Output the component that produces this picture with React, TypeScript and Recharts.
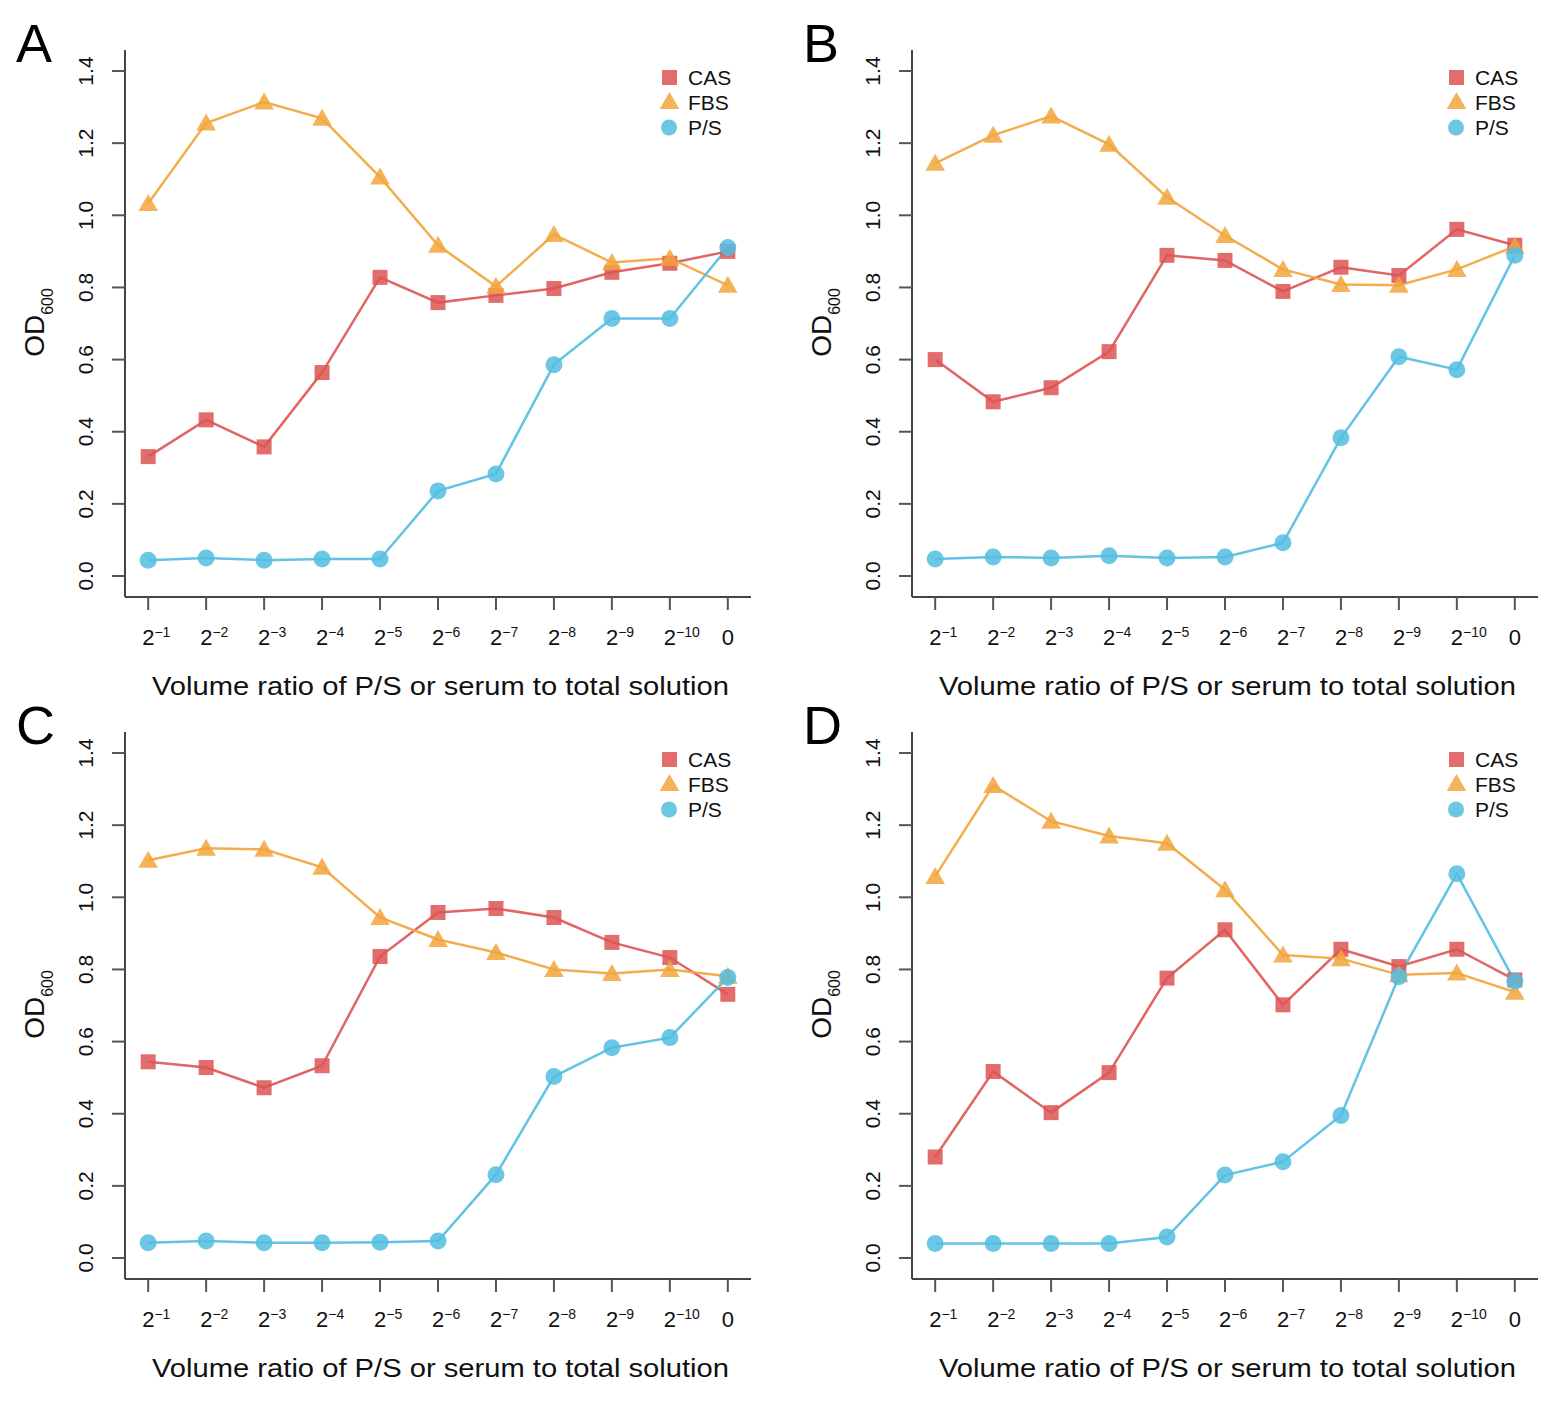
import React from "react";
import { LineChart, Line, XAxis, YAxis, Legend } from "recharts";

const FONT = "'Liberation Sans', Arial, Helvetica, sans-serif";

// categories: volume ratio 2^-1 ... 2^-10, 0
const xIndex = [1, 2, 3, 4, 5, 6, 7, 8, 9, 10, 11];
const exponents = ["−1", "−2", "−3", "−4", "−5", "−6", "−7", "−8", "−9", "−10", ""];
const yTicks = [0, 0.2, 0.4, 0.6, 0.8, 1.0, 1.2, 1.4];
const yTickLabels = ["0.0", "0.2", "0.4", "0.6", "0.8", "1.0", "1.2", "1.4"];

// Panel A
const casA = [0.331, 0.433, 0.358, 0.564, 0.828, 0.758, 0.778, 0.797, 0.842, 0.867, 0.9];
const fbsA = [1.033, 1.256, 1.314, 1.269, 1.106, 0.917, 0.803, 0.947, 0.869, 0.881, 0.806];
const psA = [0.044, 0.05, 0.044, 0.047, 0.047, 0.236, 0.283, 0.586, 0.714, 0.714, 0.911];
// Panel B
const casB = [0.6, 0.483, 0.522, 0.622, 0.889, 0.875, 0.789, 0.856, 0.833, 0.961, 0.917];
const fbsB = [1.144, 1.222, 1.275, 1.197, 1.05, 0.944, 0.85, 0.808, 0.806, 0.85, 0.914];
const psB = [0.047, 0.053, 0.05, 0.056, 0.05, 0.053, 0.092, 0.383, 0.608, 0.572, 0.889];
// Panel C
const casC = [0.544, 0.528, 0.472, 0.533, 0.836, 0.958, 0.969, 0.944, 0.875, 0.833, 0.731];
const fbsC = [1.103, 1.136, 1.133, 1.083, 0.944, 0.883, 0.847, 0.8, 0.789, 0.8, 0.781];
const psC = [0.042, 0.047, 0.042, 0.042, 0.044, 0.047, 0.231, 0.503, 0.583, 0.611, 0.778];
// Panel D
const casD = [0.28, 0.517, 0.403, 0.514, 0.776, 0.91, 0.702, 0.856, 0.808, 0.856, 0.771];
const fbsD = [1.058, 1.31, 1.211, 1.17, 1.15, 1.021, 0.84, 0.83, 0.785, 0.79, 0.737];
const psD = [0.04, 0.04, 0.04, 0.04, 0.058, 0.23, 0.267, 0.395, 0.78, 1.065, 0.767];

const seriesNames = ["CAS", "FBS", "P/S"];
const colors = { CAS: "#DD5454", FBS: "#F2A43C", PS: "#52BDE1" };

const W = 767;
const H = 720;

function buildRows(cas: number[], fbs: number[], ps: number[]) {
  return xIndex.map((x, i) => ({ x, CAS: cas[i], FBS: fbs[i], PS: ps[i] }));
}

const SquareDot = (props: any) => {
  const { cx, cy, index } = props;
  if (cx == null || cy == null) return null;
  return (
    <rect key={"s" + index} x={cx - 7.5} y={cy - 7.5} width={15} height={15} fill={colors.CAS} fillOpacity={0.85} />
  );
};
const TriangleDot = (props: any) => {
  const { cx, cy, index } = props;
  if (cx == null || cy == null) return null;
  return (
    <polygon
      key={"t" + index}
      points={`${cx},${cy - 9.5} ${cx - 9.8},${cy + 7.5} ${cx + 9.8},${cy + 7.5}`}
      fill={colors.FBS}
      fillOpacity={0.85}
    />
  );
};
const CircleDot = (props: any) => {
  const { cx, cy, index } = props;
  if (cx == null || cy == null) return null;
  return <circle key={"c" + index} cx={cx} cy={cy} r={8.5} fill={colors.PS} fillOpacity={0.85} />;
};

const XTick = (props: any) => {
  const { x, payload } = props;
  const i = xIndex.indexOf(payload.value);
  const exp = exponents[i];
  if (!exp) {
    return (
      <text x={x} y={645} textAnchor="middle" fontFamily={FONT} fontSize={22} fill="#111">
        0
      </text>
    );
  }
  return (
    <text x={x - 6} y={645} textAnchor="start" fontFamily={FONT} fontSize={22} fill="#111">
      2
      <tspan fontSize={14} dy={-8}>
        {exp}
      </tspan>
    </text>
  );
};

const YTick = (props: any) => {
  const { y, payload } = props;
  const i = yTicks.indexOf(payload.value);
  const bx = 93;
  return (
    <text
      x={bx}
      y={y}
      transform={`rotate(-90, ${bx}, ${y})`}
      textAnchor="middle"
      fontFamily={FONT}
      fontSize={21}
      fill="#111"
    >
      {yTickLabels[i]}
    </text>
  );
};

const YLabel = (props: any) => {
  const vb = props.viewBox || { x: 0, y: 50, width: 125, height: 547 };
  const cy = vb.y + vb.height / 2 - 1;
  const bx = 44;
  return (
    <text
      x={bx}
      y={cy}
      transform={`rotate(-90, ${bx}, ${cy})`}
      textAnchor="middle"
      fontFamily={FONT}
      fontSize={28}
      fill="#111"
    >
      OD
      <tspan fontSize={16} dy={9}>
        600
      </tspan>
    </text>
  );
};

const XLabel = (props: any) => {
  const vb = props.viewBox || { x: 125, y: 597, width: 626, height: 86 };
  const cx = vb.x + vb.width / 2 + 2.5;
  return (
    <text
      x={cx}
      y={695}
      textAnchor="middle"
      fontFamily={FONT}
      fontSize={26}
      textLength={577}
      lengthAdjust="spacingAndGlyphs"
      fill="#111"
    >
      Volume ratio of P/S or serum to total solution
    </text>
  );
};

const LegendBox = () => (
  <svg width={110} height={85} style={{ display: "block", overflow: "visible" }}>
    <rect x={12} y={10} width={15} height={15} fill={colors.CAS} fillOpacity={0.85} />
    <polygon points={`19.5,32 9.7,49 29.3,49`} fill={colors.FBS} fillOpacity={0.85} />
    <circle cx={19} cy={67.5} r={8} fill={colors.PS} fillOpacity={0.85} />
    <text x={38} y={25} fontFamily={FONT} fontSize={21} fill="#111">
      {seriesNames[0]}
    </text>
    <text x={38} y={50} fontFamily={FONT} fontSize={21} fill="#111">
      {seriesNames[1]}
    </text>
    <text x={38} y={75} fontFamily={FONT} fontSize={21} fill="#111">
      {seriesNames[2]}
    </text>
  </svg>
);

function Panel(props: { letter: string; left: number; top: number; cas: number[]; fbs: number[]; ps: number[] }) {
  const data = buildRows(props.cas, props.fbs, props.ps);
  return (
    <div style={{ position: "absolute", left: props.left, top: props.top, width: W, height: H }}>
      <LineChart width={W} height={H} data={data} margin={{ top: 50, right: 16, left: 0, bottom: 37 }}>
        <XAxis
          dataKey="x"
          type="number"
          domain={[0.6, 11.4]}
          ticks={xIndex}
          interval={0}
          height={86}
          axisLine={{ stroke: "#444", strokeWidth: 2 }}
          tickLine={{ stroke: "#555", strokeWidth: 2 }}
          tickSize={13}
          tick={<XTick />}
          label={<XLabel />}
        />
        <YAxis
          type="number"
          domain={[-0.0582, 1.4583]}
          ticks={yTicks}
          interval={0}
          width={125}
          axisLine={{ stroke: "#444", strokeWidth: 2 }}
          tickLine={{ stroke: "#555", strokeWidth: 2 }}
          tickSize={13}
          tick={<YTick />}
          label={<YLabel />}
        />
        <Legend
          layout="horizontal"
          verticalAlign="middle"
          align="center"
          wrapperStyle={{ position: "absolute", left: 650, top: 60, width: 110, height: 85 }}
          content={() => <LegendBox />}
        />
        <Line
          dataKey="CAS"
          name="CAS"
          stroke={colors.CAS}
          strokeWidth={2.5}
          strokeOpacity={0.9}
          dot={SquareDot}
          activeDot={false}
          isAnimationActive={false}
          type="linear"
        />
        <Line
          dataKey="FBS"
          name="FBS"
          stroke={colors.FBS}
          strokeWidth={2.5}
          strokeOpacity={0.9}
          dot={TriangleDot}
          activeDot={false}
          isAnimationActive={false}
          type="linear"
        />
        <Line
          dataKey="PS"
          name="P/S"
          stroke={colors.PS}
          strokeWidth={2.5}
          strokeOpacity={0.9}
          dot={CircleDot}
          activeDot={false}
          isAnimationActive={false}
          type="linear"
        />
      </LineChart>
      <svg
        width={W}
        height={H}
        style={{ position: "absolute", left: 0, top: 0, pointerEvents: "none" }}
      >
        <text x={16} y={62} fontFamily={FONT} fontSize={54} fill="#000">
          {props.letter}
        </text>
      </svg>
    </div>
  );
}

export default function App() {
  return (
    <div style={{ position: "absolute", left: 0, top: 0, width: 1554, height: 1403, background: "#fff" }}>
      <Panel letter="A" left={0} top={0} cas={casA} fbs={fbsA} ps={psA} />
      <Panel letter="B" left={787} top={0} cas={casB} fbs={fbsB} ps={psB} />
      <Panel letter="C" left={0} top={682} cas={casC} fbs={fbsC} ps={psC} />
      <Panel letter="D" left={787} top={682} cas={casD} fbs={fbsD} ps={psD} />
    </div>
  );
}
